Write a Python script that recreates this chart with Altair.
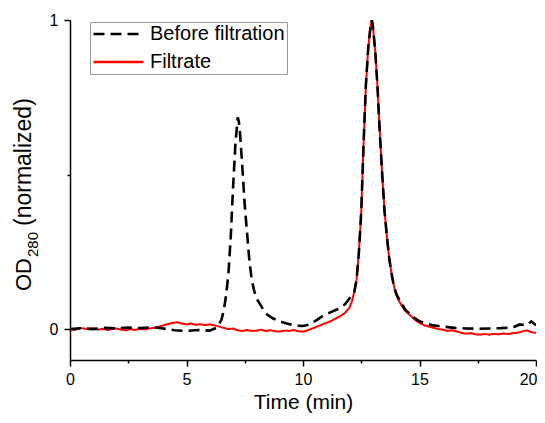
import altair as alt
import pandas as pd

series_names = ["Before filtration", "Filtrate"]
x_tick_values = [0, 2.5, 5, 7.5, 10, 12.5, 15, 17.5, 20]
y_tick_values = [0, 0.5, 1]
y_title_parts = ["OD", "280", "(normalized)"]

before_t = [0, 0.5, 1, 1.5, 2, 2.5, 3, 3.5, 4, 4.5, 5, 5.5, 6, 6.3, 6.5, 6.6, 6.7, 6.8,
            6.9, 7.0, 7.1, 7.2, 7.25, 7.3, 7.4, 7.5, 7.6, 7.7, 7.8, 7.9, 8.0, 8.2, 8.4,
            8.7, 9.0, 9.3, 9.6, 10.0, 10.3, 10.6, 10.9, 11.2, 11.5, 11.8, 12.0, 12.1,
            12.2, 12.3, 12.4, 12.5, 12.6, 12.7, 12.8, 12.9, 12.95, 13.0, 13.1, 13.2,
            13.3, 13.4, 13.5, 13.6, 13.7, 13.8, 13.9, 14.0, 14.2, 14.4, 14.6, 14.8,
            15.0, 15.3, 15.6, 16.0, 16.5, 17.0, 17.5, 18.0, 18.5, 19.0, 19.3, 19.6,
            19.8, 20.0]
before_v = [0.0, 0.003, 0.0, 0.004, 0.002, 0.005, 0.003, 0.006, 0.002, -0.004, -0.006,
            -0.003, -0.005, 0.005, 0.03, 0.06, 0.11, 0.18, 0.30, 0.46, 0.60, 0.685,
            0.67, 0.63, 0.52, 0.40, 0.31, 0.22, 0.16, 0.125, 0.10, 0.075, 0.05, 0.035,
            0.025, 0.018, 0.012, 0.01, 0.015, 0.03, 0.045, 0.055, 0.065, 0.08, 0.10,
            0.11, 0.12, 0.16, 0.25, 0.38, 0.60, 0.79, 0.91, 0.98, 1.0, 0.98, 0.90,
            0.78, 0.63, 0.50, 0.38, 0.30, 0.23, 0.18, 0.14, 0.115, 0.085, 0.062,
            0.048, 0.035, 0.025, 0.018, 0.012, 0.008, 0.004, 0.002, 0.001, 0.002,
            0.003, 0.005, 0.015, 0.012, 0.025, 0.012]

filt_t = [0, 0.2, 0.4, 0.6, 0.8, 1.0, 1.2, 1.4, 1.6, 1.8, 2.0, 2.2, 2.4, 2.6, 2.8, 3.0,
          3.2, 3.4, 3.6, 3.8, 4.0, 4.2, 4.4, 4.6, 4.8, 5.0, 5.2, 5.4, 5.6, 5.8, 6.0,
          6.2, 6.4, 6.6, 6.8, 7.0, 7.2, 7.4, 7.6, 7.8, 8.0, 8.2, 8.4, 8.6, 8.8, 9.0,
          9.2, 9.4, 9.6, 9.8, 10.0, 10.2, 10.4, 10.6, 10.8, 11.0, 11.2, 11.4, 11.6,
          11.8, 12.0, 12.1, 12.2, 12.3, 12.4, 12.5, 12.6, 12.7, 12.8, 12.9, 12.95,
          13.0, 13.1, 13.2, 13.3, 13.4, 13.5, 13.6, 13.7, 13.8, 13.9, 14.0, 14.2,
          14.4, 14.6, 14.8, 15.0, 15.2, 15.4, 15.6, 15.8, 16.0, 16.2, 16.4, 16.6,
          16.8, 17.0, 17.2, 17.4, 17.6, 17.8, 18.0, 18.2, 18.4, 18.6, 18.8, 19.0,
          19.2, 19.4, 19.6, 19.8, 20.0]
filt_v = [0.0, -0.003, 0.004, 0.002, 0.0, 0.003, -0.002, 0.001, -0.003, 0.0, 0.002,
          -0.002, -0.004, 0.0, -0.003, 0.001, -0.001, 0.002, 0.004, 0.007, 0.012,
          0.016, 0.02, 0.022, 0.018, 0.015, 0.018, 0.014, 0.016, 0.013, 0.015, 0.012,
          0.008, 0.004, 0.0, 0.002, -0.004, -0.006, -0.003, -0.006, -0.005, -0.002,
          -0.006, -0.004, -0.007, -0.008, -0.005, -0.006, -0.003, -0.007, -0.008,
          -0.004, 0.002, 0.008, 0.014, 0.02, 0.026, 0.034, 0.042, 0.052, 0.07, 0.09,
          0.12, 0.16, 0.25, 0.38, 0.60, 0.79, 0.91, 0.98, 1.0, 0.98, 0.90, 0.78,
          0.63, 0.50, 0.38, 0.30, 0.23, 0.18, 0.14, 0.11, 0.08, 0.058, 0.045, 0.03,
          0.02, 0.012, 0.008, 0.004, 0.0, -0.002, -0.006, -0.004, -0.008, -0.012,
          -0.015, -0.013, -0.017, -0.018, -0.016, -0.018, -0.015, -0.017, -0.014,
          -0.016, -0.013, -0.012, -0.008, -0.004, -0.01, -0.012]

df = pd.concat([
    pd.DataFrame({"time": before_t, "od": before_v, "series": series_names[0]}),
    pd.DataFrame({"time": filt_t, "od": filt_v, "series": series_names[1]}),
], ignore_index=True)

FONT = "Liberation Sans"

color_scale = alt.Scale(domain=series_names, range=["#000000", "#ff0000"])
dash_scale = alt.Scale(domain=series_names, range=[[11, 6], [1, 0]])

x_enc = alt.X(
    "time:Q",
    scale=alt.Scale(domain=[0, 20], nice=False, zero=False),
    axis=alt.Axis(
        title="Time (min)", values=x_tick_values, labelFlush=False,
        labelExpr="datum.value % 5 === 0 ? datum.label : ''",
        labelAlign={"expr": "datum.value === 20 ? 'right' : 'center'"},
        labelOffset={"expr": "datum.value === 20 ? 1 : 0"},
        tickSize={"expr": "datum.value % 5 === 0 ? 6 : 3"},
        grid=False, labelFontSize=16, titleFontSize=21, labelPadding=5,
        titlePadding=4,
    ),
)
y_enc = alt.Y(
    "od:Q",
    scale=alt.Scale(domain=[-0.1, 1], nice=False, zero=False),
    axis=alt.Axis(
        title=None, values=y_tick_values, format="~g", labelFlush=False,
        labelExpr="datum.value === 0.5 ? '' : datum.label",
        tickSize={"expr": "datum.value === 0.5 ? 3 : 6"},
        grid=False, labelFontSize=16, labelPadding=6,
    ),
)

legend = alt.Legend(
    title=None, orient="none", legendX=20, legendY=2,
    symbolType="stroke", symbolSize=2500, symbolStrokeWidth=2.6,
    labelFontSize=20, labelFont=FONT, strokeColor="#999999",
    padding=2, rowPadding=8, labelOffset=5, clipHeight=20,
)

red = alt.Chart(df).transform_filter(
    alt.datum.series == series_names[1]
).mark_line(strokeWidth=2, clip=True).encode(
    x=x_enc, y=y_enc,
    color=alt.Color("series:N", scale=color_scale, legend=legend),
    strokeDash=alt.StrokeDash("series:N", scale=dash_scale, legend=legend),
)
black = alt.Chart(df).transform_filter(
    alt.datum.series == series_names[0]
).mark_line(strokeWidth=2.6, clip=True).encode(
    x=x_enc, y=y_enc,
    color=alt.Color("series:N", scale=color_scale, legend=legend),
    strokeDash=alt.StrokeDash("series:N", scale=dash_scale, legend=legend),
)

# y-axis title built from three text pieces so that "280" is a real subscript
title_od = alt.Chart(pd.DataFrame({"t": [y_title_parts[0]]})).mark_text(
    angle=270, align="left", baseline="alphabetic", font=FONT, fontSize=22, color="black"
).encode(text="t:N", x=alt.value(-39), y=alt.value(271))
title_sub = alt.Chart(pd.DataFrame({"t": [y_title_parts[1]]})).mark_text(
    angle=270, align="left", baseline="alphabetic", font=FONT, fontSize=15, color="black"
).encode(text="t:N", x=alt.value(-32), y=alt.value(237))
title_rest = alt.Chart(pd.DataFrame({"t": [y_title_parts[2]]})).mark_text(
    angle=270, align="left", baseline="alphabetic", font=FONT, fontSize=23, color="black"
).encode(text="t:N", x=alt.value(-39), y=alt.value(206))

chart = alt.layer(red, black, title_od, title_sub, title_rest).properties(
    width=466, height=340,
    autosize="none",
    padding={"left": 62, "top": 12, "right": 1, "bottom": 55},
).configure_view(stroke=None).configure_axis(
    domainColor="#000000", domainWidth=1.5, tickColor="#000000", tickWidth=1.5,
    labelColor="#000000", titleColor="#000000", labelFont=FONT, titleFont=FONT,
    titleFontWeight="normal",
).configure_axisY(labelAngle=0)

chart.save("out.html", embed_options={"renderer": "svg", "actions": False})
